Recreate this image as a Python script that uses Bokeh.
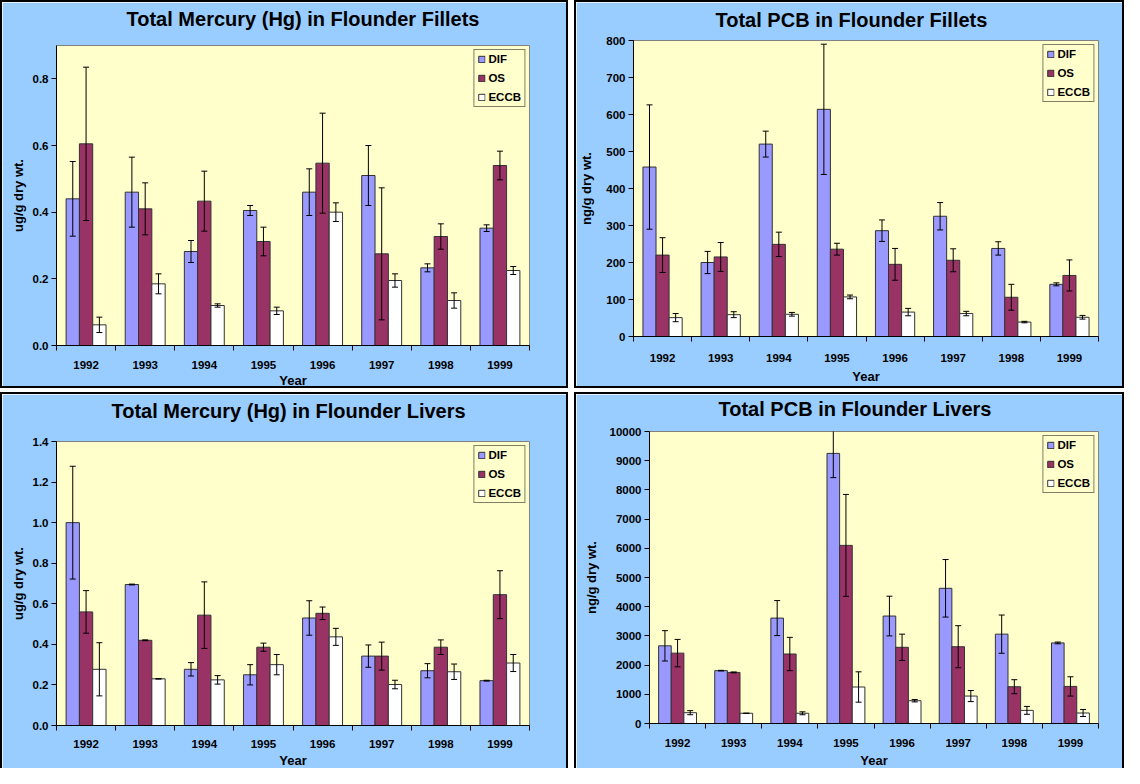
from bokeh.plotting import figure
from bokeh.models import (ColumnDataSource, FixedTicker, Whisker, TeeHead, Legend,
                          LegendItem, Range1d, NumeralTickFormatter, Title)
from bokeh.layouts import row, column
from bokeh.embed import file_html
from bokeh.resources import INLINE

years = ["1992", "1993", "1994", "1995", "1996", "1997", "1998", "1999"]
series_names = ["DIF", "OS", "ECCB"]

hg_fillet_dif = [0.44, 0.46, 0.282, 0.405, 0.46, 0.51, 0.233, 0.352]
hg_fillet_dif_err = [0.112, 0.105, 0.033, 0.015, 0.07, 0.09, 0.012, 0.01]
hg_fillet_os = [0.605, 0.41, 0.433, 0.312, 0.547, 0.275, 0.327, 0.54]
hg_fillet_os_err = [0.23, 0.078, 0.09, 0.043, 0.15, 0.198, 0.038, 0.043]
hg_fillet_eccb = [0.062, 0.185, 0.12, 0.104, 0.40, 0.195, 0.135, 0.225]
hg_fillet_eccb_err = [0.023, 0.03, 0.005, 0.011, 0.028, 0.02, 0.023, 0.012]

pcb_fillet_dif = [458, 200, 520, 614, 286, 325, 238, 141]
pcb_fillet_dif_err = [168, 30, 35, 176, 29, 37, 18, 4]
pcb_fillet_os = [220, 215, 249, 236, 195, 206, 106, 165]
pcb_fillet_os_err = [47, 39, 33, 16, 43, 31, 35, 42]
pcb_fillet_eccb = [51, 59, 60, 107, 66, 62, 39, 52]
pcb_fillet_eccb_err = [11, 8, 5, 5, 10, 6, 2, 5]

hg_liver_dif = [1.0, 0.695, 0.277, 0.25, 0.53, 0.342, 0.27, 0.221]
hg_liver_dif_err = [0.278, 0.002, 0.033, 0.05, 0.085, 0.055, 0.035, 0.002]
hg_liver_os = [0.56, 0.42, 0.544, 0.386, 0.553, 0.342, 0.386, 0.645]
hg_liver_os_err = [0.105, 0.002, 0.164, 0.02, 0.031, 0.069, 0.036, 0.118]
hg_liver_eccb = [0.277, 0.23, 0.225, 0.30, 0.437, 0.202, 0.265, 0.308]
hg_liver_eccb_err = [0.131, 0.001, 0.021, 0.05, 0.042, 0.021, 0.038, 0.042]

pcb_liver_dif = [2660, 1810, 3610, 9250, 3680, 4630, 3060, 2760]
pcb_liver_dif_err = [520, 10, 600, 830, 680, 985, 655, 30]
pcb_liver_os = [2410, 1750, 2380, 6100, 2610, 2630, 1260, 1270]
pcb_liver_os_err = [470, 15, 570, 1745, 450, 720, 240, 330]
pcb_liver_eccb = [370, 350, 350, 1250, 780, 940, 450, 360]
pcb_liver_eccb_err = [70, 0, 50, 520, 40, 190, 135, 120]

hg_fillet_yticks = [0.0, 0.2, 0.4, 0.6, 0.8]
pcb_fillet_yticks = [0, 100, 200, 300, 400, 500, 600, 700, 800]
hg_liver_yticks = [0.0, 0.2, 0.4, 0.6, 0.8, 1.0, 1.2, 1.4]
pcb_liver_yticks = [0, 1000, 2000, 3000, 4000, 5000, 6000, 7000, 8000, 9000, 10000]

FONT = "Liberation Sans"
COLORS = ["#9999FF", "#993366", "#FFFFFF"]
OFFSETS = [-0.225, 0.0, 0.225]
BAR_W = 0.225


def make_panel(title, ylabel, ymax, yticks, yfmt, series, g):
    w, h = g["w"], g["h"]
    bottom_border = g.get("bottom_border", True)
    p = figure(width=w, height=h, output_backend="svg", toolbar_location=None,
               x_range=Range1d(0, len(years)), y_range=Range1d(0, ymax),
               min_border_left=g["l"], min_border_top=g["t"], min_border_right=g["r"],
               min_border_bottom=g["b"])
    p.background_fill_color = "#FFFFCC"
    p.border_fill_color = "#99CCFF"
    p.outline_line_color = "#808080"
    p.grid.visible = False
    st = {"border": "2px solid black"}
    if not bottom_border:
        st["border-bottom"] = "none"
    p.styles = st

    xa = p.below[0]
    ya = p.left[0]

    # blank spacer between the frame and the title
    p.add_layout(Title(text=" ", text_font_size="1px", standoff=g["sp"]), "above")
    p.title.text = title
    p.title.align = "left"
    p.title.offset = g["tx"]
    p.title.standoff = 0
    p.title.text_font = FONT
    p.title.text_font_size = "20px"
    p.title.text_font_style = "bold"
    p.title.text_color = "black"

    centers = [i + 0.5 for i in range(len(years))]
    renderers = []
    srcs = []
    for k, (vals, errs) in enumerate(series):
        xs = [c + OFFSETS[k] for c in centers]
        src = ColumnDataSource(dict(x=xs, top=vals,
                                    upper=[v + e for v, e in zip(vals, errs)],
                                    lower=[v - e for v, e in zip(vals, errs)]))
        r = p.vbar(x="x", top="top", width=BAR_W, bottom=0, source=src,
                   fill_color=COLORS[k], line_color="#333333", line_width=1)
        renderers.append(r)
        srcs.append(src)
    for src in srcs:
        wk = Whisker(source=src, base="x", upper="upper", lower="lower",
                     dimension="height", line_color="black", line_width=1,
                     upper_head=TeeHead(size=6, line_color="black", line_width=1),
                     lower_head=TeeHead(size=6, line_color="black", line_width=1),
                     level="annotation")
        p.add_layout(wk)

    xa.ticker = FixedTicker(ticks=centers, minor_ticks=list(range(len(years) + 1)))
    xa.major_label_overrides = {c: y for c, y in zip(centers, years)}
    xa.major_tick_line_color = None
    xa.major_tick_out = 5
    xa.major_tick_in = 0
    xa.minor_tick_line_color = "black"
    xa.minor_tick_out = 5
    xa.minor_tick_in = 0
    xa.axis_line_color = "black"
    xa.major_label_standoff = g["xs"]
    xa.major_label_text_font = FONT
    xa.major_label_text_font_size = "11.5px"
    xa.major_label_text_font_style = "bold"
    xa.major_label_text_color = "black"
    xa.axis_label = "Year"
    xa.axis_label_text_font = FONT
    xa.axis_label_text_font_size = "13px"
    xa.axis_label_text_font_style = "bold"
    xa.axis_label_text_color = "black"
    xa.axis_label_standoff = g["xl"]

    ya.ticker = FixedTicker(ticks=yticks)
    ya.formatter = NumeralTickFormatter(format=yfmt)
    ya.minor_tick_line_color = None
    ya.major_tick_out = 5
    ya.major_tick_in = 0
    ya.major_tick_line_color = "black"
    ya.axis_line_color = "black"
    ya.major_label_standoff = 3
    ya.major_label_text_font = FONT
    ya.major_label_text_font_size = "11.5px"
    ya.major_label_text_font_style = "bold"
    ya.major_label_text_color = "black"
    ya.axis_label = ylabel
    ya.axis_label_text_font = FONT
    ya.axis_label_text_font_size = "13px"
    ya.axis_label_text_font_style = "bold"
    ya.axis_label_text_color = "black"
    ya.axis_label_standoff = g["ys"]

    legend = Legend(items=[LegendItem(label=n, renderers=[r]) for n, r in zip(series_names, renderers)],
                    location="top_right", margin=4, padding=3, spacing=7,
                    glyph_width=8, glyph_height=8, label_height=12, label_standoff=3,
                    label_text_font=FONT, label_text_font_size="11.5px",
                    label_text_font_style="bold", label_text_color="black",
                    border_line_color="black", border_line_width=1,
                    background_fill_color="#FFFFCC", background_fill_alpha=1.0)
    p.add_layout(legend)
    return p


geomA = dict(w=568, h=388, l=54, t=43, r=41, b=43, xs=10, xl=1, ys=4, tx=70, sp=13)
geomB = dict(w=550, h=388, l=55, t=38, r=28, b=54, xs=12, xl=4, ys=9, tx=82, sp=7)
geomC = dict(w=568, h=376, l=54, t=47, r=41, b=43, xs=9, xl=2, ys=4, tx=55, sp=17,
             bottom_border=False)
geomD = dict(w=550, h=376, l=73, t=37, r=28, b=45, xs=10, xl=3, ys=8, tx=69, sp=9,
             bottom_border=False)

pA = make_panel("Total Mercury (Hg) in Flounder Fillets", "ug/g dry wt.", 0.9,
                hg_fillet_yticks, "0.0",
                [(hg_fillet_dif, hg_fillet_dif_err), (hg_fillet_os, hg_fillet_os_err),
                 (hg_fillet_eccb, hg_fillet_eccb_err)], geomA)
pB = make_panel("Total PCB in Flounder Fillets", "ng/g dry wt.", 800,
                pcb_fillet_yticks, "0",
                [(pcb_fillet_dif, pcb_fillet_dif_err), (pcb_fillet_os, pcb_fillet_os_err),
                 (pcb_fillet_eccb, pcb_fillet_eccb_err)], geomB)
pC = make_panel("Total Mercury (Hg) in Flounder Livers", "ug/g dry wt.", 1.4,
                hg_liver_yticks, "0.0",
                [(hg_liver_dif, hg_liver_dif_err), (hg_liver_os, hg_liver_os_err),
                 (hg_liver_eccb, hg_liver_eccb_err)], geomC)
pD = make_panel("Total PCB in Flounder Livers", "ng/g dry wt.", 10000,
                pcb_liver_yticks, "0",
                [(pcb_liver_dif, pcb_liver_dif_err), (pcb_liver_os, pcb_liver_os_err),
                 (pcb_liver_eccb, pcb_liver_eccb_err)], geomD)

layout = column(row(column(pA), column(pB), spacing=6),
                row(column(pC), column(pD), spacing=6), spacing=4)
open("out.html", "w").write(file_html(layout, INLINE))
